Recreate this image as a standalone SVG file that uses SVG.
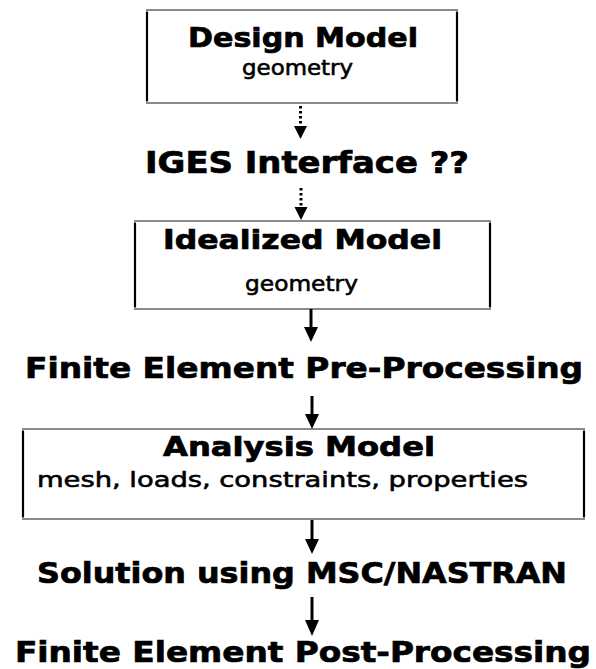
<svg xmlns="http://www.w3.org/2000/svg" width="596" height="669" viewBox="0 0 596 669">
<style>
.bg{fill:#fff}
.edge{fill:none;stroke:#8a8a8a;stroke-width:2}
.side{stroke:#000;stroke-width:2.2}
.head{font-family:"DejaVu Sans","Liberation Sans",sans-serif;font-weight:bold;fill:#000;stroke:#000;stroke-width:0.7}
.sub{font-family:"DejaVu Sans","Liberation Sans",sans-serif;fill:#000;stroke:#000;stroke-width:0.6}
.solid{stroke:#000;stroke-width:3}
.dots{stroke:#000;stroke-width:3;stroke-dasharray:2.5 2.5}
.tri{fill:#000}
</style>
<rect class="bg" width="596" height="669"/>
<g id="design-model">
<rect class="edge" x="147" y="10" width="310" height="93"/>
<line class="side" x1="147" y1="12" x2="147" y2="101"/>
<line class="side" x1="457" y1="12" x2="457" y2="101"/>
<text class="head" x="188" y="47" font-size="26" textLength="230" lengthAdjust="spacingAndGlyphs">Design Model</text>
<text class="sub" x="242" y="75" font-size="22" textLength="111" lengthAdjust="spacingAndGlyphs">geometry</text>
</g>
<g id="iges">
<text class="head" x="145" y="173" font-size="31" textLength="324" lengthAdjust="spacingAndGlyphs">IGES Interface ??</text>
</g>
<g id="idealized-model">
<rect class="edge" x="135" y="221" width="355" height="88"/>
<line class="side" x1="135" y1="223" x2="135" y2="307"/>
<line class="side" x1="490" y1="223" x2="490" y2="307"/>
<text class="head" x="163" y="249" font-size="26" textLength="279" lengthAdjust="spacingAndGlyphs">Idealized Model</text>
<text class="sub" x="245" y="291" font-size="22" textLength="113" lengthAdjust="spacingAndGlyphs">geometry</text>
</g>
<g id="pre-processing">
<text class="head" x="25" y="378" font-size="29" textLength="558" lengthAdjust="spacingAndGlyphs">Finite Element Pre-Processing</text>
</g>
<g id="analysis-model">
<rect class="edge" x="23" y="429" width="561" height="90"/>
<line class="side" x1="23" y1="431" x2="23" y2="517"/>
<line class="side" x1="584" y1="431" x2="584" y2="517"/>
<text class="head" x="163" y="456" font-size="26" textLength="272" lengthAdjust="spacingAndGlyphs">Analysis Model</text>
<text class="sub" x="37" y="487" font-size="22" textLength="491" lengthAdjust="spacingAndGlyphs">mesh, loads, constraints, properties</text>
</g>
<g id="solution">
<text class="head" x="37" y="583" font-size="29" textLength="530" lengthAdjust="spacingAndGlyphs">Solution using MSC/NASTRAN</text>
</g>
<g id="post-processing">
<text class="head" x="15" y="662" font-size="28" textLength="576" lengthAdjust="spacingAndGlyphs">Finite Element Post-Processing</text>
</g>
<g id="connectors">
<line class="dots" x1="300.5" y1="106" x2="300.5" y2="127"/>
<polygon class="tri" points="294,126 307,126 300.5,139"/>
<line class="dots" x1="301" y1="188" x2="301" y2="208"/>
<polygon class="tri" points="294.5,207 307.5,207 301,220"/>
<line class="solid" x1="311" y1="309" x2="311" y2="329"/>
<polygon class="tri" points="304,327 318,327 311,342"/>
<line class="solid" x1="312" y1="396" x2="312" y2="416"/>
<polygon class="tri" points="305,414 319,414 312,429"/>
<line class="solid" x1="312" y1="520" x2="312" y2="541"/>
<polygon class="tri" points="305,539 319,539 312,554"/>
<line class="solid" x1="312" y1="597" x2="312" y2="622"/>
<polygon class="tri" points="305,620 319,620 312,636"/>
</g>
</svg>
